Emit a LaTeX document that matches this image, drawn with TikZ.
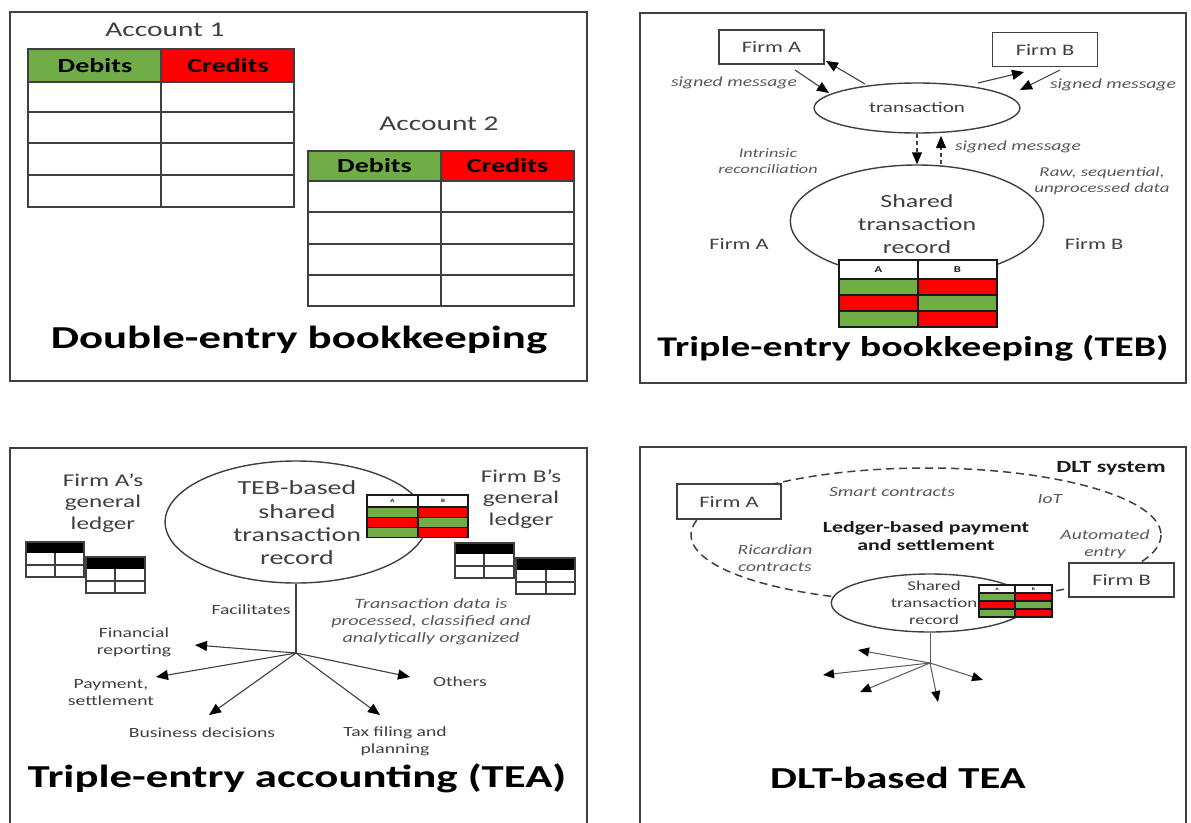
\documentclass[tikz,border=0pt]{standalone}
\usepackage{fontspec}
\setmainfont{Carlito}
\usetikzlibrary{arrows.meta,shapes.geometric}
\definecolor{grn}{HTML}{70AD47}
\definecolor{rd}{HTML}{FF0000}
\definecolor{ink}{HTML}{404040}
\definecolor{soft}{HTML}{595959}
\definecolor{dark}{HTML}{1A1A1A}
% A/B shared-record table: #1 left, #2 mid, #3 right, #4 top, #5 header h, #6 row h, #7 font size, #8 name prefix
\newcommand\abtable[8]{%
  \fill[white] (#1,#4) rectangle (#3,#4+#5);
  \fill[grn] (#1,#4+#5) rectangle (#2,#4+#5+#6);
  \fill[rd]  (#2,#4+#5) rectangle (#3,#4+#5+#6);
  \fill[rd]  (#1,#4+#5+#6) rectangle (#2,#4+#5+2*#6);
  \fill[grn] (#2,#4+#5+#6) rectangle (#3,#4+#5+2*#6);
  \fill[grn] (#1,#4+#5+2*#6) rectangle (#2,#4+#5+3*#6);
  \fill[rd]  (#2,#4+#5+2*#6) rectangle (#3,#4+#5+3*#6);
  \draw[abgrid] (#1,#4) rectangle (#3,#4+#5+3*#6);
  \draw[abgrid] (#1,#4+#5) -- (#3,#4+#5);
  \draw[abgrid] (#1,#4+#5+#6) -- (#3,#4+#5+#6);
  \draw[abgrid] (#1,#4+#5+2*#6) -- (#3,#4+#5+2*#6);
  \draw[abgrid] (#2,#4) -- (#2,#4+#5+3*#6);
  \node[T,text=dark,font=\fontsize{#7}{#7}\selectfont\bfseries] (#8A) at ({(#1+#2)/2},{#4+#5/2}) {A};
  \node[T,text=dark,font=\fontsize{#7}{#7}\selectfont\bfseries] (#8B) at ({(#2+#3)/2},{#4+#5/2}) {B};
}
% small ledger icon: #1 left, #2 mid, #3 right, #4 top, #5 header h, #6 row h
\newcommand\ledgericon[6]{%
  \fill[black] (#1,#4) rectangle (#3,#4+#5);
  \draw[lgrid] (#1,#4) rectangle (#3,#4+#5+2*#6);
  \draw[lgrid] (#1,#4+#5+#6) -- (#3,#4+#5+#6);
  \draw[lgrid] (#2,#4+#5) -- (#2,#4+#5+2*#6);
}
\begin{document}
\begin{tikzpicture}[x=1pt,y=-1pt,
  panel/.style={draw=ink,line width=1.8pt},
  grid/.style={draw=ink,line width=1.3pt},
  abgrid/.style={draw=dark,line width=1.1pt},
  lgrid/.style={draw=ink,line width=1.1pt},
  T/.style={xscale=1.4,inner sep=0pt,align=center,text=ink},
  ttl/.style={T,text=black,font=\fontsize{32}{38}\selectfont\bfseries},
  hdr/.style={T,text=black,font=\fontsize{20}{24}\selectfont\bfseries},
  lbl/.style={T,font=\fontsize{14}{17}\selectfont},
  it/.style={T,text=soft,font=\fontsize{14}{17}\selectfont\itshape},
  arr/.style={draw=ink,line width=1.1pt,-{Triangle[length=12pt,width=10pt,color=black,fill=black]}},
  sarr/.style={draw=soft,line width=1pt,-{Triangle[length=11pt,width=9pt,color=black,fill=black]}},
  firmbox/.style={draw=ink,line width=1.4pt,fill=white,xscale=1.4,inner sep=0pt,
    text=ink,font=\fontsize{16}{19}\selectfont,minimum height=34pt,minimum width=75pt},
  oval/.style={ellipse,draw=ink,line width=1.4pt,fill=white,xscale=1.4,inner sep=0pt},
]
\useasboundingbox (0,0) rectangle (1191,822);
\fill[white] (0,0) rectangle (1191,822);

%================ Panel 1: Double-entry bookkeeping
\draw[panel] (10,12) rectangle (587,381);
\node[T,font=\fontsize{21}{25}\selectfont] (acc1) at (165,30) {Account 1};
\fill[grn] (28,49) rectangle (161,82);
\fill[rd] (161,49) rectangle (294,82);
\draw[grid] (28,49) rectangle (294,207);
\foreach \yy in {82,112,143,175} \draw[grid] (28,\yy) -- (294,\yy);
\draw[grid] (161,49) -- (161,207);
\node[hdr] (deb1) at (95,66) {Debits};
\node[hdr] (cre1) at (228,66) {Credits};

\node[T,font=\fontsize{21}{25}\selectfont] (acc2) at (439,124) {Account 2};
\fill[grn] (308,151) rectangle (441,181);
\fill[rd] (441,151) rectangle (574,181);
\draw[grid] (308,151) rectangle (574,306);
\foreach \yy in {181,212,244,275} \draw[grid] (308,\yy) -- (574,\yy);
\draw[grid] (441,151) -- (441,306);
\node[hdr] (deb2) at (374.5,166) {Debits};
\node[hdr] (cre2) at (507.5,166) {Credits};

\node[ttl] (t1) at (299,340) {Double-entry bookkeeping};

%================ Panel 2: TEB
\draw[panel] (640,13) rectangle (1186,383);
\node[firmbox] (fa2) at (771.5,47) {Firm A};
\node[firmbox] (fb2) at (1045,49.5) {Firm B};
\node[oval,minimum width=147pt,minimum height=50pt] (tx) at (917,108) {};
\node[T,font=\fontsize{15}{18}\selectfont] (txt) at (917,107) {transaction};

\coordinate (p1) at (795,70);  \coordinate (q1) at (829,93);
\coordinate (p2) at (865,84);  \coordinate (q2) at (826,61);
\coordinate (p3) at (978,83);  \coordinate (q3) at (1024,72);
\coordinate (p4) at (1060,70); \coordinate (q4) at (1020,90);
\draw[arr] (p1) -- (q1);
\draw[arr] (p2) -- (q2);
\draw[arr] (p3) -- (q3);
\draw[arr] (p4) -- (q4);
\node[it] (sm1) at (734,83) {signed message};
\node[it] (sm2) at (1113,85) {signed message};

\node[oval,minimum width=181pt,minimum height=112pt] (e2) at (917,221) {};
\coordinate (u1) at (941,164); \coordinate (u2) at (941,136);
\draw[arr,dash pattern=on 4pt off 3pt] (tx.south) -- (e2.north);
\draw[arr,dash pattern=on 4pt off 3pt] (u1) -- (u2);
\node[it] (sm3) at (1018,147) {signed message};
\node[it,font=\fontsize{13}{16}\selectfont\itshape] (intr) at (768,161) {Intrinsic\\reconciliation};
\node[it,font=\fontsize{13.5}{16}\selectfont\itshape] (raw) at (1102,181) {Raw, sequential,\\unprocessed data};
\node[T,font=\fontsize{18.5}{23}\selectfont] (str2) at (917,224) {Shared\\transaction\\record};
\node[T,font=\fontsize{16}{19}\selectfont] (fa2b) at (739,244) {Firm A};
\node[T,font=\fontsize{16}{19}\selectfont] (fb2b) at (1094,244) {Firm B};
\abtable{839}{918}{997}{260}{19}{16}{9}{tb2}
\node[ttl,font=\fontsize{28.5}{34}\selectfont\bfseries] (t2) at (913,348) {Triple-entry bookkeeping (TEB)};

%================ Panel 3: TEA
\draw[panel] (10,448) rectangle (587,840);
\node[T,font=\fontsize{18}{21.5}\selectfont] (gla) at (103,503) {Firm A’s\\general\\ledger};
\node[T,font=\fontsize{18}{21.5}\selectfont] (glb) at (521,499) {Firm B’s\\general\\ledger};
\ledgericon{26}{55}{84}{542}{11}{12}
\ledgericon{86}{115}{145}{557}{12}{12}
\ledgericon{455}{484}{514}{543}{11}{12}
\ledgericon{516}{546}{575}{558}{12}{12}
\node[oval,minimum width=187pt,minimum height=122pt] (e3) at (296,522) {};
\node[T,font=\fontsize{20}{23.3}\selectfont] (str3) at (297,523) {TEB-based\\shared\\transaction\\record};
\abtable{367}{418}{468}{495}{12}{10.3}{5}{tb3}
\coordinate (h3) at (296,653);
\draw[draw=ink,line width=1.1pt] (e3.south) -- (h3);
\coordinate (f1) at (195,645);
\coordinate (f2) at (156,677);
\coordinate (f3) at (209,715);
\coordinate (f4) at (380,715);
\coordinate (f5) at (410,677);
\foreach \ff in {f1,f2,f3,f4,f5} \draw[arr] (h3) -- (\ff);
\node[lbl] (fac) at (251,610) {Facilitates};
\node[it,font=\fontsize{14.3}{17}\selectfont\itshape] (tdp) at (431,622) {Transaction data is\\processed, classified and\\analytically organized};
\node[lbl] (fin) at (134,642.5) {Financial\\reporting};
\node[lbl] (pay) at (111,692.5) {Payment,\\settlement};
\node[lbl] (bus) at (202,733) {Business decisions};
\node[lbl] (tax) at (395,741.5) {Tax filing and\\planning};
\node[lbl] (oth) at (460,682) {Others};
\node[ttl] (t3) at (297,778) {Triple-entry accounting (TEA)};

%================ Panel 4: DLT-based TEA
\draw[panel] (640,447) rectangle (1186,840);
\draw[draw=ink,line width=1.5pt,dash pattern=on 8pt off 5pt] (926,535) ellipse [x radius=235, y radius=67];
\node[T,text=dark,font=\fontsize{17}{20}\selectfont\bfseries] (dlt) at (1111,468) {DLT system};
\node[firmbox,minimum height=35pt,minimum width=74.3pt] (fa4) at (729,501.5) {Firm A};
\node[firmbox] (fb4) at (1121.5,580) {Firm B};
\node[it] (sc) at (892,492) {Smart contracts};
\node[it] (iot) at (1050,499) {IoT};
\node[T,text=dark,font=\fontsize{15.6}{18}\selectfont\bfseries] (lbp) at (926,536) {Ledger-based payment\\and settlement};
\node[it] (aut) at (1105,544.5) {Automated\\entry};
\node[it] (ric) at (775,558.5) {Ricardian\\contracts};
\node[oval,minimum width=141pt,minimum height=58pt] (e4) at (930,603) {};
\node[T,font=\fontsize{13.5}{17}\selectfont] (str4) at (934,603) {Shared\\transaction\\record};
\abtable{979}{1015}{1052}{585}{8}{8}{4}{tb4}
\coordinate (h4) at (930,663);
\draw[draw=soft,line width=1pt] (e4.south) -- (h4);
\coordinate (g1) at (858,650);
\coordinate (g2) at (823,675);
\coordinate (g3) at (860,692);
\coordinate (g4) at (938,702);
\coordinate (g5) at (983,680);
\foreach \gg in {g1,g2,g3,g4,g5} \draw[sarr] (h4) -- (\gg);
\node[ttl,font=\fontsize{30.5}{36}\selectfont\bfseries] (t4) at (898,778) {DLT-based TEA};
\end{tikzpicture}
\end{document}
